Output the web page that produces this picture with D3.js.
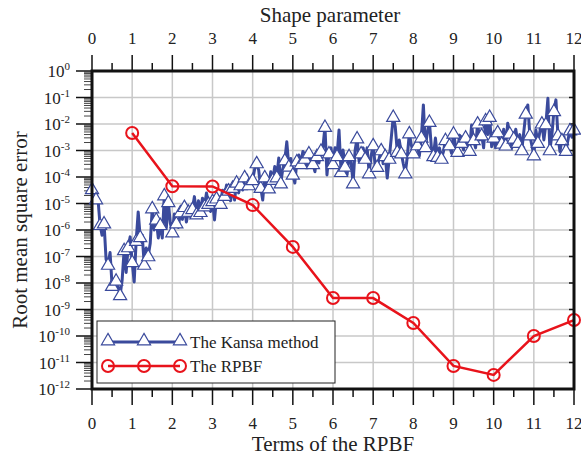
<!DOCTYPE html>
<html>
<head>
<meta charset="utf-8">
<script src="https://cdn.jsdelivr.net/npm/d3@7"></script>
<style>
  body { margin: 0; background: #fff; }
</style>
</head>
<body>
<div id="chart"></div>
<script>
// RPBF: terms 1..12 vs RMSE
var rpbfTerms = [1, 2, 3, 4, 5, 6, 7, 8, 9, 10, 11, 12];
var rpbfRmse = [4.6e-3, 4.5e-5, 4.4e-5, 8.7e-6, 2.3e-7, 2.7e-9, 2.7e-9, 3.1e-10, 7.4e-12, 3.4e-12, 1.0e-10, 4.0e-10];

// Kansa: shape parameter 0..12 step 0.05, log10(RMSE)
var kansaStep = 0.05;
var kansaLog10 = [
  -4.45, -4.5, -4.83, -4.85, -5.8, -6.2, -5.74, -7.1, -7.3, -6.85,
  -8.1, -8.15, -7.9, -8.15, -8.45, -7.9, -6.75, -7.6, -6.64, -6.26,
  -7.2, -7.96, -6.4, -5.32, -6.26, -6.19, -7.3, -6.68, -6.98, -6.5,
  -5.17, -6.0, -5.6, -6.3, -5.8, -6.3, -4.68, -5.92, -4.94, -5.74,
  -6.08, -5.4, -5.74, -5.9, -5.32, -5.6, -5.12, -5.7, -5.3, -5.5,
  -5.2, -4.74, -5.4, -4.9, -5.31, -4.8, -5.1, -4.6, -5.0, -5.3,
  -4.9, -5.62, -4.8, -4.74, -5.0, -4.5, -4.7, -4.3, -4.5, -4.9,
  -4.4, -4.87, -4.2, -4.6, -4.3, -4.49, -4.0, -3.92, -4.3, -4.11,
  -4.11, -3.7, -3.47, -3.74, -4.4, -4.87, -4.0, -4.3, -4.42, -3.8,
  -4.1, -3.6, -4.0, -3.28, -4.23, -3.7, -3.36, -2.67, -3.6, -3.3,
  -3.9, -4.23, -3.4, -3.17, -3.5, -3.04, -3.3, -3.6, -3.1, -3.3,
  -3.5, -3.8, -3.2, -3.47, -3.0, -2.86, -2.1, -3.92, -3.1, -2.9,
  -3.5, -2.9, -3.2, -2.23, -3.8, -2.98, -3.6, -3.92, -3.2, -3.42,
  -4.23, -3.0, -2.53, -3.42, -3.1, -2.9, -3.3, -2.9, -3.85, -3.2,
  -2.79, -3.55, -3.61, -3.3, -2.98, -3.5, -3.2, -4.04, -3.3, -2.53,
  -1.72, -2.1, -3.04, -2.6, -3.1, -3.5, -3.85, -3.23, -2.34, -2.8,
  -3.1, -2.73, -2.79, -3.2, -2.5, -1.28, -2.86, -2.3, -1.91, -2.9,
  -3.2, -2.53, -3.23, -2.9, -3.3, -3.04, -2.6, -2.9, -2.79, -3.1,
  -2.35, -2.8, -3.04, -2.42, -2.7, -2.98, -2.5, -2.79, -3.0, -2.04,
  -2.6, -2.9, -1.97, -2.6, -2.42, -2.9, -1.85, -2.4, -1.72, -2.86,
  -2.5, -2.9, -2.3, -2.6, -2.73, -2.2, -2.8, -1.97, -2.35, -2.9,
  -2.54, -2.2, -2.7, -2.4, -2.98, -2.3, -1.6, -1.28, -2.42, -2.8,
  -3.17, -2.23, -2.7, -2.3, -1.97, -2.6, -2.0, -1.03, -2.98, -2.4,
  -1.5, -1.09, -2.42, -3.04, -2.6, -2.48, -3.0, -2.6, -2.23, -2.5,
  -2.2
];

var xTicks = [0, 1, 2, 3, 4, 5, 6, 7, 8, 9, 10, 11, 12];
var yExponents = [0, -1, -2, -3, -4, -5, -6, -7, -8, -9, -10, -11, -12];

var width = 581, height = 459;
var margin = {left: 92, right: 7, top: 71, bottom: 70};
var serif = "'Liberation Serif', 'Times New Roman', Times, 'DejaVu Serif', serif";

var svg = d3.select("#chart").append("svg")
    .attr("width", width)
    .attr("height", height)
    .attr("font-family", serif)
    .style("font-family", serif);

var x = d3.scaleLinear().domain([0, 12]).range([margin.left, width - margin.right]);
var y = d3.scaleLog().domain([1e-12, 1]).range([height - margin.bottom, margin.top]);

var kansa = kansaLog10.map(function (v, i) { return {s: i * kansaStep, r: Math.pow(10, v)}; });
var rpbf = rpbfTerms.map(function (t, i) { return {t: t, r: rpbfRmse[i]}; });

var blue = "#3a4a9c", red = "#e8131b";

// grid
svg.append("g").selectAll("line").data(xTicks).enter().append("line")
    .attr("x1", d => x(d)).attr("x2", d => x(d))
    .attr("y1", margin.top).attr("y2", height - margin.bottom)
    .style("stroke", "#c8c8c8").style("stroke-width", 1.5);
svg.append("g").selectAll("line").data(yExponents).enter().append("line")
    .attr("x1", margin.left).attr("x2", width - margin.right)
    .attr("y1", d => y(Math.pow(10, d))).attr("y2", d => y(Math.pow(10, d)))
    .style("stroke", "#c8c8c8").style("stroke-width", 1.5);

// minor log ticks on the left, outside
var minor = [];
yExponents.slice(1).forEach(function (e) {
    for (var k = 2; k <= 9; k++) minor.push(k * Math.pow(10, e));
});
svg.append("g").selectAll("line").data(minor).enter().append("line")
    .attr("x1", margin.left - 8).attr("x2", margin.left)
    .attr("y1", d => y(d)).attr("y2", d => y(d))
    .style("stroke", "#444").style("stroke-width", 1);

// major y ticks left, and small ones right inside
svg.append("g").selectAll("line").data(yExponents).enter().append("line")
    .attr("x1", margin.left - 16).attr("x2", margin.left)
    .attr("y1", d => y(Math.pow(10, d))).attr("y2", d => y(Math.pow(10, d)))
    .style("stroke", "#111").style("stroke-width", 1.5);
svg.append("g").selectAll("line").data(yExponents).enter().append("line")
    .attr("x1", width - margin.right - 5).attr("x2", width - margin.right)
    .attr("y1", d => y(Math.pow(10, d))).attr("y2", d => y(Math.pow(10, d)))
    .style("stroke", "#111").style("stroke-width", 1.5);

// y tick labels 10^n
var yl = svg.append("g").selectAll("text").data(yExponents).enter().append("text")
    .attr("x", margin.left - 22)
    .attr("y", d => y(Math.pow(10, d)) + 6)
    .attr("text-anchor", "end")
    .style("font-size", "17px").style("fill", "#222");
yl.append("tspan").text("10");
yl.append("tspan").attr("dy", -7).style("font-size", "11px").text(d => d);

// x ticks top and bottom (major + half minor)
var halfTicks = d3.range(0.5, 12, 1);
[[margin.top, -1], [height - margin.bottom, 1]].forEach(function (p) {
    svg.append("g").selectAll("line").data(xTicks).enter().append("line")
        .attr("x1", d => x(d)).attr("x2", d => x(d))
        .attr("y1", p[0]).attr("y2", p[0] + p[1] * 16)
        .style("stroke", "#111").style("stroke-width", 1.5);
    svg.append("g").selectAll("line").data(halfTicks).enter().append("line")
        .attr("x1", d => x(d)).attr("x2", d => x(d))
        .attr("y1", p[0]).attr("y2", p[0] + p[1] * 8)
        .style("stroke", "#111").style("stroke-width", 1.5);
});

svg.append("g").selectAll("text").data(xTicks).enter().append("text")
    .attr("x", d => x(d)).attr("y", 44)
    .attr("text-anchor", "middle").style("font-size", "17px").style("fill", "#222")
    .text(d => d);
svg.append("g").selectAll("text").data(xTicks).enter().append("text")
    .attr("x", d => x(d)).attr("y", 429)
    .attr("text-anchor", "middle").style("font-size", "17px").style("fill", "#222")
    .text(d => d);

// axis titles
svg.append("text").attr("x", 330).attr("y", 22)
    .attr("text-anchor", "middle").style("font-size", "21px").style("fill", "#222")
    .text("Shape parameter");
svg.append("text").attr("x", 333).attr("y", 451)
    .attr("text-anchor", "middle").style("font-size", "21px").style("fill", "#222")
    .text("Terms of the RPBF");
svg.append("text")
    .attr("transform", "translate(27," + ((margin.top + height - margin.bottom) / 2) + ") rotate(-90)")
    .attr("text-anchor", "middle").style("font-size", "21px").style("fill", "#222")
    .text("Root mean square error");

// Kansa series
svg.append("path").datum(kansa)
    .attr("d", d3.line().x(d => x(d.s)).y(d => y(d.r)))
    .style("fill", "none").style("stroke", blue)
    .style("stroke-width", 3).style("stroke-linejoin", "round");

var tri = d3.symbol().type(d3.symbolTriangle).size(75);
svg.append("g").selectAll("path").data(kansa.filter((d, i) => i % 2 === 0)).enter().append("path")
    .attr("d", tri)
    .attr("transform", d => "translate(" + x(d.s) + "," + (y(d.r) + 1) + ")")
    .style("fill", "#fff").style("stroke", blue).style("stroke-width", 1.2);

// RPBF series
svg.append("path").datum(rpbf)
    .attr("d", d3.line().x(d => x(d.t)).y(d => y(d.r)))
    .style("fill", "none").style("stroke", red).style("stroke-width", 2.5);
svg.append("g").selectAll("circle").data(rpbf).enter().append("circle")
    .attr("cx", d => x(d.t)).attr("cy", d => y(d.r)).attr("r", 6)
    .style("fill", "none").style("stroke", red).style("stroke-width", 2);

// frame
svg.append("rect")
    .attr("x", margin.left).attr("y", margin.top)
    .attr("width", width - margin.left - margin.right)
    .attr("height", height - margin.top - margin.bottom)
    .style("fill", "none").style("stroke", "#111").style("stroke-width", 3);

// legend
var lg = svg.append("g");
lg.append("rect").attr("x", 97).attr("y", 321).attr("width", 238).attr("height", 62)
    .style("fill", "#fff").style("stroke", "#222").style("stroke-width", 1);
var legendX = [108, 144, 180];
lg.append("line").attr("x1", 108).attr("x2", 180).attr("y1", 342).attr("y2", 342)
    .style("stroke", blue).style("stroke-width", 3);
lg.selectAll(".lt").data(legendX).enter().append("path")
    .attr("d", tri).attr("transform", d => "translate(" + d + ",341)")
    .style("fill", "#fff").style("stroke", blue).style("stroke-width", 1.2);
lg.append("line").attr("x1", 108).attr("x2", 180).attr("y1", 366).attr("y2", 366)
    .style("stroke", red).style("stroke-width", 2.5);
lg.selectAll(".lc").data(legendX).enter().append("circle")
    .attr("cx", d => d).attr("cy", 366).attr("r", 6)
    .style("fill", "none").style("stroke", red).style("stroke-width", 2);
lg.append("text").attr("x", 190).attr("y", 348).style("font-size", "17px").style("fill", "#222").text("The Kansa method");
lg.append("text").attr("x", 190).attr("y", 372).style("font-size", "17px").style("fill", "#222").text("The RPBF");
</script>
</body>
</html>
